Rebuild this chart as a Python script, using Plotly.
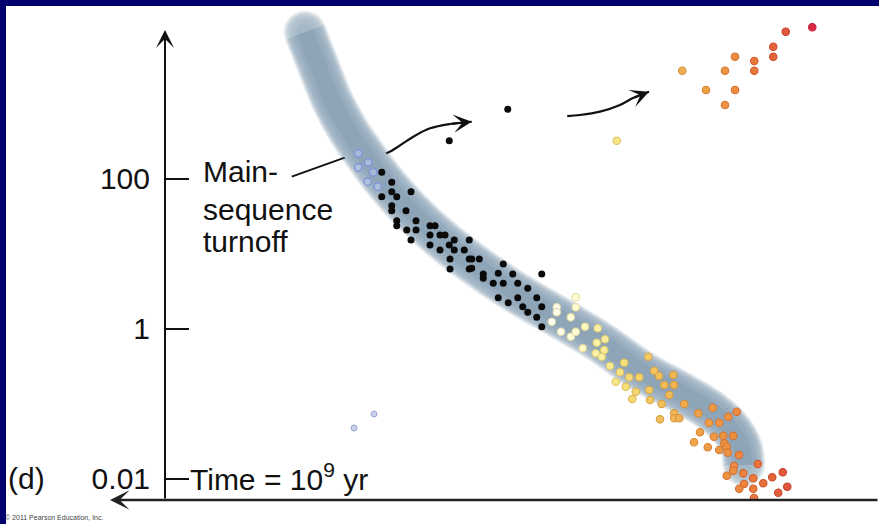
import plotly.graph_objects as go

# ---------------------------------------------------------------------------
# H-R diagram of a star cluster at an age of 10^9 yr.
# x: colour index (blue on the left, red on the right), y: log10(L / Lsun)
# ---------------------------------------------------------------------------

# Zero-age main-sequence band (centre line)
band_x = [0.16, 0.212, 0.268, 0.332, 0.40, 0.48, 0.58, 0.70, 0.84, 1.00,
          1.18, 1.34, 1.512, 1.66, 1.78, 1.86, 1.906, 1.915]
band_logL = [3.953, 3.513, 3.047, 2.647, 2.313, 1.953, 1.58, 1.207, 0.847,
             0.487, 0.14, -0.18, -0.58, -0.847, -1.087, -1.327, -1.593, -1.82]

# Hot stars that have already left the main sequence (faded markers)
gone_x = [0.373, 0.413, 0.373, 0.433, 0.411, 0.451]
gone_logL = [2.336, 2.216, 2.149, 2.083, 1.957, 1.891]

# White dwarfs
wd_x = [0.356, 0.436]
wd_logL = [-1.327, -1.14]

# Upper main sequence near the turnoff, plus two subgiants
turnoff_x = [0.467, 0.507, 0.584, 0.507, 0.527, 0.467, 0.507, 0.507, 0.564,
             0.527, 0.604, 0.527, 0.567, 0.604, 0.584, 0.66, 0.68, 0.66,
             0.70, 0.72, 0.757, 0.817, 0.66, 0.70, 0.737, 0.757, 0.797,
             0.74, 0.817, 0.857, 0.827, 0.74, 0.817, 0.827, 0.953, 0.873,
             0.873, 0.933, 0.991, 1.107, 0.913, 0.953, 1.011, 1.051, 0.933,
             0.973, 1.011, 1.031, 1.087, 1.051, 1.107, 1.087, 1.107,
             0.737, 0.971]
turnoff_logL = [2.083, 1.949, 1.824, 1.824, 1.757, 1.757, 1.637, 1.571, 1.571,
                1.437, 1.437, 1.371, 1.313, 1.313, 1.18, 1.371, 1.371, 1.247,
                1.247, 1.247, 1.18, 1.18, 1.113, 1.047, 1.113, 1.047, 1.047,
                0.927, 0.927, 0.927, 0.927, 0.793, 0.793, 0.803, 0.86, 0.727,
                0.669, 0.736, 0.727, 0.727, 0.603, 0.603, 0.603, 0.536, 0.411,
                0.344, 0.411, 0.291, 0.411, 0.216, 0.291, 0.149, 0.024,
                2.504, 2.923]

# Lower main sequence (coloured by temperature)
lower_x = [1.243, 1.243, 1.167, 1.167, 1.147, 1.223, 1.184, 1.223, 1.243,
           1.28, 1.331, 1.327, 1.36, 1.271, 1.323, 1.347, 1.357, 1.38, 1.437,
           1.42, 1.457, 1.403, 1.497, 1.443, 1.483, 1.469, 1.533, 1.557,
           1.576, 1.537, 1.597, 1.633, 1.636, 1.617, 1.54, 1.587, 1.677,
           1.637, 1.637, 1.657, 1.58, 1.791, 1.733, 1.853, 1.887, 1.776,
           1.817, 1.74, 1.796, 1.833, 1.873, 1.716, 1.771, 1.837, 1.847,
           1.817, 1.851, 1.896, 1.876, 1.873, 1.971, 1.913, 1.847, 1.953,
           2.071, 2.029, 1.993, 1.916, 1.897, 1.953, 2.053, 2.089, 1.956,
           1.407]
lower_logL = [0.416, 0.283, 0.283, 0.216, 0.091, 0.149, -0.043, -0.109,
              -0.043, 0.024, 0.003, -0.189, -0.144, -0.264, -0.331, -0.376,
              -0.287, -0.5, -0.456, -0.584, -0.651, -0.709, -0.651, -0.776,
              -0.843, -0.94, -0.376, -0.563, -0.633, -0.82, -0.753, -0.62,
              -0.753, -0.887, -0.953, -1.007, -1.007, -1.131, -1.197, -1.197,
              -1.211, -1.056, -1.131, -1.176, -1.109, -1.256, -1.256, -1.384,
              -1.443, -1.429, -1.429, -1.517, -1.584, -1.531, -1.576, -1.62,
              -1.656, -1.687, -1.833, -1.896, -1.807, -1.931, -1.963, -1.997,
              -1.917, -1.984, -2.064, -2.073, -2.136, -2.136, -2.189, -2.109,
              -2.26, 2.504]

# Red giants
giant_x = [1.669, 1.84, 1.88, 1.764, 1.88, 1.84, 1.957, 1.957, 2.033, 2.033,
           2.083, 2.189]
giant_logL = [3.437, 3.437, 3.624, 3.18, 3.18, 2.98, 3.567, 3.437, 3.757,
              3.624, 3.957, 4.016]

# Luminosity axis
tick_logL = [-2, 0, 2]
tick_text = ["0.01", "1", "100"]

# ---------------------------------------------------------------------------
FONT = "Liberation Sans, Arial, Helvetica, sans-serif"
W, H = 879, 524
ML, MR, MT, MB = 165, 0, 6, 24
PW, PH = W - ML - MR, H - MT - MB


def px(xp):
    """Horizontal page position -> paper fraction."""
    return (xp - ML) / PW


def py(yp):
    """Vertical page position -> paper fraction."""
    return (H - MB - yp) / PH


fig = go.Figure()

# Leader line from the "Main-sequence turnoff" label (runs under the band)
fig.add_trace(go.Scatter(
    x=[0.107, 0.38], y=[2.024, 2.353], mode="lines",
    line=dict(color="#111111", width=1.8), hoverinfo="skip"))

# Evolution arrows (stars moving off toward the giant branch)
arrow1 = ([0.46, 0.507, 0.593, 0.66, 0.74, 0.827],
          [2.30, 2.371, 2.557, 2.669, 2.727, 2.757])
arrow2 = ([1.209, 1.26, 1.34, 1.42, 1.472, 1.536],
          [2.833, 2.847, 2.891, 2.98, 3.073, 3.157])
for ax_, ay_ in (arrow1, arrow2):
    fig.add_trace(go.Scatter(
        x=ax_, y=ay_, mode="lines",
        line=dict(color="#111111", width=2.2, shape="spline", smoothing=1.0),
        hoverinfo="skip"))

# Main-sequence band: opaque base, then soft layered blue-grey tube
n_band = len(band_x)


def tube(width, color, opacity):
    return go.Scatter(
        x=band_x, y=band_logL, mode="lines+markers",
        line=dict(color=color, width=width, shape="spline", smoothing=0.9),
        marker=dict(size=[width] + [0] * (n_band - 2) + [width],
                    color=color, line=dict(width=0)),
        opacity=opacity, hoverinfo="skip")


fig.add_trace(tube(36, "#ffffff", 1.0))
for w in (43, 41, 39, 37, 35, 31, 25, 17):
    fig.add_trace(tube(w, "rgb(80,118,145)", 0.115))

# Stars
fig.add_trace(go.Scatter(
    x=gone_x, y=gone_logL, mode="markers",
    marker=dict(size=7.5, color="rgba(195,205,240,0.55)",
                line=dict(color="#7b93dc", width=1.3)),
    hoverinfo="skip"))
fig.add_trace(go.Scatter(
    x=wd_x, y=wd_logL, mode="markers",
    marker=dict(size=6, color="#c9d2ea", line=dict(color="#98a8d0", width=1)),
    hoverinfo="skip"))
fig.add_trace(go.Scatter(
    x=turnoff_x, y=turnoff_logL, mode="markers",
    marker=dict(size=7, color="#0a0a0a", line=dict(width=0)),
    hoverinfo="skip"))

fill_scale = [[0.0, "#fffef2"], [0.095, "#fffbd6"], [0.191, "#f9f0a2"],
              [0.286, "#f6e07c"], [0.382, "#f2c862"], [0.496, "#efb050"],
              [0.611, "#ee9c46"], [0.706, "#ed8c40"], [0.802, "#e8723a"],
              [0.916, "#e0523a"], [1.0, "#d92a44"]]
edge_scale = [[0.0, "#dcd8b4"], [0.095, "#e2daa2"], [0.191, "#dccb72"],
              [0.286, "#dcbc56"], [0.382, "#d8a548"], [0.496, "#d6913c"],
              [0.611, "#d77e34"], [0.706, "#d46e30"], [0.802, "#cc562c"],
              [0.916, "#c43e30"], [1.0, "#c01e38"]]
CMIN, CMAX = 1.14, 2.19


def coloured(xs, ys, size):
    return go.Scatter(
        x=xs, y=ys, mode="markers",
        marker=dict(size=size, color=xs, colorscale=fill_scale,
                    cmin=CMIN, cmax=CMAX, showscale=False,
                    line=dict(width=1.1, color=xs, colorscale=edge_scale,
                              cmin=CMIN, cmax=CMAX)),
        hoverinfo="skip")


fig.add_trace(coloured(lower_x, lower_logL, 7.5))
fig.add_trace(coloured(giant_x, giant_logL, 7.5))

# Arrowheads on the evolution arrows
for ax_, ay_ in (arrow1, arrow2):
    fig.add_annotation(
        x=ax_[-1], y=ay_[-1], ax=ax_[-2], ay=ay_[-2],
        xref="x", yref="y", axref="x", ayref="y", text="",
        showarrow=True, arrowhead=3, arrowsize=1.4, arrowwidth=2.2,
        arrowcolor="#111111", standoff=0)

# Axes drawn as arrows: luminosity up, temperature increasing to the left
fig.add_annotation(
    x=0, y=py(30), xref="paper", yref="paper", ax=0, ay=470,
    axref="pixel", ayref="pixel", text="", showarrow=True,
    arrowhead=3, arrowsize=1.5, arrowwidth=2, arrowcolor="#111111",
    standoff=0)
fig.add_annotation(
    x=px(110), y=0, xref="paper", yref="paper", ax=769, ay=0,
    axref="pixel", ayref="pixel", text="", showarrow=True,
    arrowhead=3, arrowsize=1.3, arrowwidth=2.5, arrowcolor="#222222",
    standoff=0)

# Labels
txt = dict(family=FONT, size=30, color="#111111")
for label, yp in (("Main-", 172), ("sequence", 209), ("turnoff", 242)):
    fig.add_annotation(x=px(201), y=py(yp), xref="paper", yref="paper",
                       text=label, showarrow=False, xanchor="left",
                       yanchor="middle", font=txt)
fig.add_annotation(x=px(188), y=py(477), xref="paper", yref="paper",
                   text="Time = 10<sup>9</sup> yr", showarrow=False,
                   xanchor="left", yanchor="middle", font=txt)
fig.add_annotation(x=px(6), y=py(478), xref="paper", yref="paper",
                   text="(d)", showarrow=False, xanchor="left",
                   yanchor="middle", font=txt)
fig.add_annotation(x=px(3), y=py(517), xref="paper", yref="paper",
                   text="© 2011 Pearson Education, Inc.", showarrow=False,
                   xanchor="left", yanchor="middle",
                   font=dict(family=FONT, size=7, color="#444444"))

# Navy frame on the top and left edges
NAVY = "#00006e"
fig.add_shape(type="rect", xref="paper", yref="paper", x0=px(0), x1=px(6),
              y0=py(H), y1=py(0), fillcolor=NAVY, line=dict(width=0))
fig.add_shape(type="rect", xref="paper", yref="paper", x0=px(0), x1=px(W),
              y0=py(6), y1=py(0), fillcolor=NAVY, line=dict(width=0))

fig.update_layout(
    width=W, height=H, showlegend=False,
    margin=dict(l=ML, r=MR, t=MT, b=MB, pad=0),
    paper_bgcolor="#ffffff", plot_bgcolor="#ffffff",
    xaxis=dict(range=[-0.4, 2.456], visible=False, showgrid=False,
               zeroline=False, fixedrange=True),
    yaxis=dict(range=[(328.5 - (H - MB)) / 75, (328.5 - MT) / 75],
               tickmode="array", tickvals=tick_logL, ticktext=tick_text,
               ticks="inside", ticklen=24, tickwidth=2, tickcolor="#111111",
               showline=False, showgrid=False, zeroline=False,
               tickfont=dict(family=FONT, size=30, color="#111111"),
               ticklabelstandoff=14, fixedrange=True),
)

fig.write_html("out.html")
